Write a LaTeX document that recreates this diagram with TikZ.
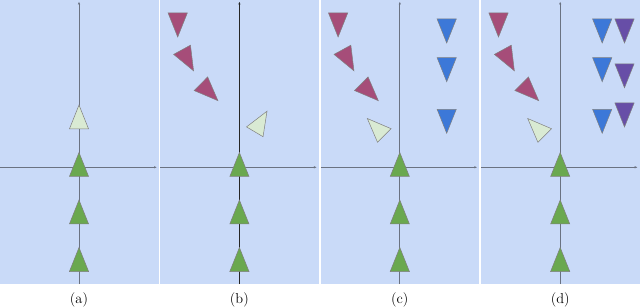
\documentclass[tikz,border=0pt]{standalone}
\usetikzlibrary{arrows.meta}
\definecolor{panelbg}{HTML}{C9DAF8}
\definecolor{axisgrey}{HTML}{6A7282}
\definecolor{basegreen}{HTML}{6AA84F}
\definecolor{palegreen}{HTML}{D9EAD3}
\definecolor{sweptmagenta}{HTML}{A64D79}
\definecolor{targetblue}{HTML}{3C78D8}
\definecolor{extrapurple}{HTML}{674EA7}

\begin{document}
\begin{tikzpicture}[
    x=1pt, y=-1pt,
    panel/.style={fill=panelbg},
    axis/.style={draw=axisgrey, line width=0.8pt, -{Latex[length=3pt, width=2.4pt]}},
    darkaxis/.style={axis, draw=black!85},
    tri/.pic={\path[pic actions] (0,-12) -- (9.6,12) -- (-9.6,12) -- cycle;},
    trishape/.style={draw=black!50, line width=0.5pt},
    base/.style={trishape, fill=basegreen},
    ghost/.style={trishape, fill=palegreen},
    swept/.style={trishape, fill=sweptmagenta},
    target/.style={trishape, fill=targetblue},
    extra/.style={trishape, fill=extrapurple},
    caption/.style={font=\Large, inner sep=0pt}
]
    \useasboundingbox (0,0) rectangle (640,307);

    % (a)
    \begin{scope}[shift={(0,0)}]
        \fill[panel] (0,0) rectangle (158.6,284);
        \draw[axis] (0,167.3) -- (157,167.3);
        \draw[axis] (79,284) -- (79,1.5);
        \pic[ghost] at (79,117) {tri};
        \foreach \gy in {164.5,212,259.5} \pic[base] at (79,\gy) {tri};
        \node[caption] (capa) at (79,299.5) {(a)};
    \end{scope}

    % (b)
    \begin{scope}[shift={(160.4,0)}]
        \fill[panel] (0,0) rectangle (158.6,284);
        \draw[axis] (0,167.3) -- (156.5,167.3);
        \draw[darkaxis] (79,284) -- (79,1.5);
        \pic[swept, rotate=180] at (17.3,25) {tri};
        \pic[swept, rotate=-151.3] at (27.4,60.3) {tri};
        \pic[swept, rotate=-134.8] at (49,92.2) {tri};
        \pic[ghost, rotate=-30.7] at (100.5,121.5) {tri};
        \foreach \gy in {164.5,212,259.5} \pic[base] at (79,\gy) {tri};
        \node[caption] (capb) at (79,299.5) {(b)};
    \end{scope}

    % (c)
    \begin{scope}[shift={(320.8,0)}]
        \fill[panel] (0,0) rectangle (158.6,284);
        \draw[axis] (0,167.3) -- (156.5,167.3);
        \draw[axis] (79,284) -- (79,1.5);
        \pic[swept, rotate=180] at (17.3,25) {tri};
        \pic[swept, rotate=-151.3] at (27.4,60.3) {tri};
        \pic[swept, rotate=-134.8] at (49,92.2) {tri};
        \pic[ghost, rotate=45] at (55,127) {tri};
        \pic[target, rotate=180] at (125.9,31) {tri};
        \pic[target, rotate=180] at (125.9,69.7) {tri};
        \pic[target, rotate=180] at (125.9,121.3) {tri};
        \foreach \gy in {164.5,212,259.5} \pic[base] at (79,\gy) {tri};
        \node[caption] (capc) at (79,299.5) {(c)};
    \end{scope}

    % (d)
    \begin{scope}[shift={(481.2,0)}]
        \fill[panel] (0,0) rectangle (158.8,284);
        \draw[axis] (0,167.3) -- (156.5,167.3);
        \draw[axis] (79,284) -- (79,1.5);
        \pic[swept, rotate=180] at (17.3,25) {tri};
        \pic[swept, rotate=-151.3] at (27.4,60.3) {tri};
        \pic[swept, rotate=-134.8] at (49,92.2) {tri};
        \pic[ghost, rotate=45] at (55,127) {tri};
        \pic[target, rotate=180] at (121,31) {tri};
        \pic[target, rotate=180] at (121,69.7) {tri};
        \pic[target, rotate=180] at (121,121.3) {tri};
        \pic[extra, rotate=180] at (143.3,31) {tri};
        \pic[extra, rotate=180] at (143.3,75.8) {tri};
        \pic[extra, rotate=180] at (143.3,115) {tri};
        \foreach \gy in {164.5,212,259.5} \pic[base] at (79,\gy) {tri};
        \node[caption] (capd) at (79,299.5) {(d)};
    \end{scope}
\end{tikzpicture}
\end{document}
